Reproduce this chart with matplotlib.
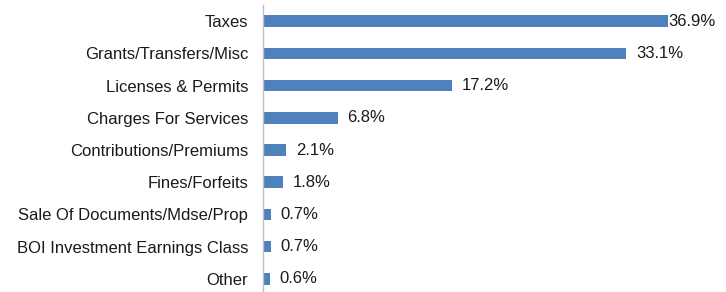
import matplotlib

matplotlib.use("Agg")
import matplotlib.pyplot as plt

categories = [
    "Taxes",
    "Grants/Transfers/Misc",
    "Licenses & Permits",
    "Charges For Services",
    "Contributions/Premiums",
    "Fines/Forfeits",
    "Sale Of Documents/Mdse/Prop",
    "BOI Investment Earnings Class",
    "Other",
]
shares = [36.9, 33.1, 17.2, 6.8, 2.1, 1.8, 0.7, 0.7, 0.6]

plt.rcParams["font.family"] = ["Liberation Sans", "DejaVu Sans"]

fig = plt.figure(figsize=(7.26, 2.92), dpi=100)
ax = fig.add_axes([0.3623, -0.0103, 0.6047, 0.9932])

y = list(range(len(categories)))
ax.barh(y, shares, height=0.36, color="#4f81bd")
ax.set_xlim(0, 40)
ax.set_ylim(len(categories) - 0.5, -0.5)

for yi, v in zip(y, shares):
    # the widest label gets pushed back against the bar end, as in the source
    off = 0 if v > 35 else 7
    ax.annotate(f"{v:.1f}%", (v, yi), xytext=(off, 0), textcoords="offset points",
                va="center", ha="left", fontsize=12, color="#1a1a1a")

ax.set_yticks(y)
ax.set_yticklabels(categories, fontsize=12, color="#1a1a1a")
ax.tick_params(axis="y", length=0, pad=10.8)
ax.set_xticks([])
for side in ("top", "right", "bottom"):
    ax.spines[side].set_visible(False)
ax.spines["left"].set_color("#bfbfbf")
ax.spines["left"].set_linewidth(1.0)

fig.savefig("out.png", dpi=100)
